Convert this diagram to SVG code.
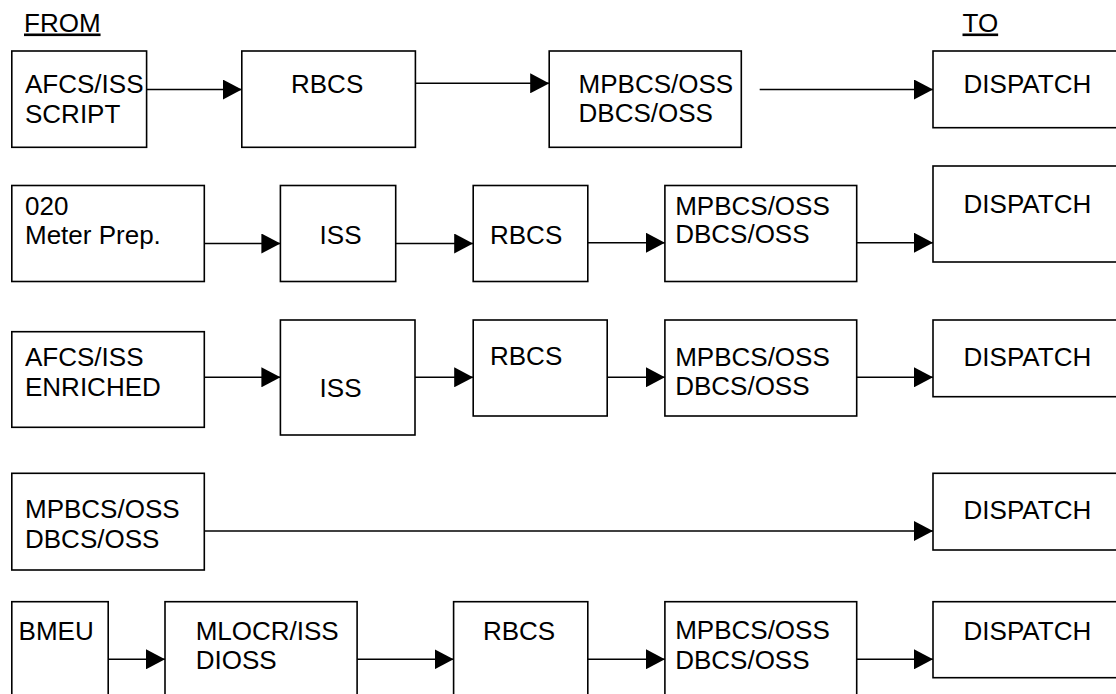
<svg xmlns="http://www.w3.org/2000/svg" width="1116" height="694" viewBox="0 0 1116 694">
  <style>
    .box { fill: #ffffff; stroke: #000000; stroke-width: 1.6; }
    .lbl { font-family: "Liberation Sans", Arial, sans-serif; font-size: 26px; fill: #000000; }
    .hdr { font-family: "Liberation Sans", Arial, sans-serif; font-size: 26px; fill: #000000; text-decoration: underline; }
    .flow { fill: none; stroke: #000000; stroke-width: 1.6; marker-end: url(#head); }
  </style>
  <defs>
    <marker id="head" markerUnits="userSpaceOnUse" markerWidth="19" markerHeight="20" viewBox="0 0 19 20" refX="19" refY="10" orient="auto">
      <path d="M0,0 L19,10 L0,20 Z" fill="#000000"/>
    </marker>
  </defs>
  <rect width="1116" height="694" fill="#ffffff"/>

  <!-- column headings -->
  <g id="headings">
    <text class="hdr" x="24" y="31.5">FROM</text>
    <text class="hdr" x="962.5" y="31.5">TO</text>
  </g>

  <!-- row 1 -->
  <g id="r1-afcs-script">
    <rect class="box" x="11.8" y="51" width="134.8" height="96.3"/>
    <text class="lbl" x="25" y="93">AFCS/ISS</text>
    <text class="lbl" x="25" y="122.5">SCRIPT</text>
  </g>
  <g id="r1-rbcs">
    <rect class="box" x="241.8" y="51" width="173.6" height="96.3"/>
    <text class="lbl" x="291" y="93">RBCS</text>
  </g>
  <g id="r1-mpbcs">
    <rect class="box" x="549.2" y="51" width="192.1" height="96.3"/>
    <text class="lbl" x="578.6" y="93">MPBCS/OSS</text>
    <text class="lbl" x="578.6" y="122">DBCS/OSS</text>
  </g>
  <g id="r1-dispatch">
    <rect class="box" x="933" y="51" width="190" height="76.7"/>
    <text class="lbl" x="963.6" y="93">DISPATCH</text>
  </g>

  <!-- row 2 -->
  <g id="r2-meter-prep">
    <rect class="box" x="11.8" y="185.5" width="192.5" height="96"/>
    <text class="lbl" x="25" y="215">020</text>
    <text class="lbl" x="25" y="244.3">Meter Prep.</text>
  </g>
  <g id="r2-iss">
    <rect class="box" x="280.4" y="185.5" width="115.3" height="96"/>
    <text class="lbl" x="319.6" y="244">ISS</text>
  </g>
  <g id="r2-rbcs">
    <rect class="box" x="473.2" y="185.5" width="114.6" height="96"/>
    <text class="lbl" x="490" y="244">RBCS</text>
  </g>
  <g id="r2-mpbcs">
    <rect class="box" x="664.9" y="185.5" width="191.8" height="96"/>
    <text class="lbl" x="675.2" y="215">MPBCS/OSS</text>
    <text class="lbl" x="675.2" y="243.3">DBCS/OSS</text>
  </g>
  <g id="r2-dispatch">
    <rect class="box" x="933" y="166" width="190" height="96"/>
    <text class="lbl" x="963.6" y="213.3">DISPATCH</text>
  </g>

  <!-- row 3 -->
  <g id="r3-afcs-enriched">
    <rect class="box" x="11.8" y="331.7" width="192.5" height="95.6"/>
    <text class="lbl" x="25" y="366">AFCS/ISS</text>
    <text class="lbl" x="25" y="395.7">ENRICHED</text>
  </g>
  <g id="r3-iss">
    <rect class="box" x="280.4" y="320" width="134.6" height="115"/>
    <text class="lbl" x="319.6" y="396.7">ISS</text>
  </g>
  <g id="r3-rbcs">
    <rect class="box" x="473.2" y="320" width="134" height="96"/>
    <text class="lbl" x="490" y="365">RBCS</text>
  </g>
  <g id="r3-mpbcs">
    <rect class="box" x="664.9" y="320" width="191.8" height="96"/>
    <text class="lbl" x="675.2" y="365.7">MPBCS/OSS</text>
    <text class="lbl" x="675.2" y="395">DBCS/OSS</text>
  </g>
  <g id="r3-dispatch">
    <rect class="box" x="933" y="320" width="190" height="76.7"/>
    <text class="lbl" x="963.6" y="365.7">DISPATCH</text>
  </g>

  <!-- row 4 -->
  <g id="r4-mpbcs">
    <rect class="box" x="11.8" y="473.3" width="192.5" height="96.7"/>
    <text class="lbl" x="25" y="518.3">MPBCS/OSS</text>
    <text class="lbl" x="25" y="548.3">DBCS/OSS</text>
  </g>
  <g id="r4-dispatch">
    <rect class="box" x="933" y="473.3" width="190" height="76.7"/>
    <text class="lbl" x="963.6" y="519.3">DISPATCH</text>
  </g>

  <!-- row 5 -->
  <g id="r5-bmeu">
    <rect class="box" x="11.8" y="601.7" width="96.4" height="110"/>
    <text class="lbl" x="18.6" y="640">BMEU</text>
  </g>
  <g id="r5-mlocr">
    <rect class="box" x="165" y="601.7" width="192.1" height="110"/>
    <text class="lbl" x="195.7" y="640">MLOCR/ISS</text>
    <text class="lbl" x="195.7" y="669.3">DIOSS</text>
  </g>
  <g id="r5-rbcs">
    <rect class="box" x="453.6" y="601.7" width="134.2" height="110"/>
    <text class="lbl" x="482.9" y="640">RBCS</text>
  </g>
  <g id="r5-mpbcs">
    <rect class="box" x="664.9" y="601.7" width="191.8" height="110"/>
    <text class="lbl" x="675.2" y="639.3">MPBCS/OSS</text>
    <text class="lbl" x="675.2" y="669.3">DBCS/OSS</text>
  </g>
  <g id="r5-dispatch">
    <rect class="box" x="933" y="601.7" width="190" height="76"/>
    <text class="lbl" x="963.6" y="640">DISPATCH</text>
  </g>

  <!-- connectors -->
  <g id="connectors">
    <line class="flow" x1="146.6" y1="89.5" x2="241.8" y2="89.5"/>
    <line class="flow" x1="415.4" y1="83.3" x2="549.2" y2="83.3"/>
    <line class="flow" x1="759.7" y1="89.5" x2="933" y2="89.5"/>

    <line class="flow" x1="204.3" y1="243.5" x2="280.4" y2="243.5"/>
    <line class="flow" x1="395.7" y1="243.5" x2="473.2" y2="243.5"/>
    <line class="flow" x1="587.8" y1="242.7" x2="664.9" y2="242.7"/>
    <line class="flow" x1="856.7" y1="242.7" x2="933" y2="242.7"/>

    <line class="flow" x1="204.3" y1="377.3" x2="280.4" y2="377.3"/>
    <line class="flow" x1="415" y1="377.3" x2="473.2" y2="377.3"/>
    <line class="flow" x1="607.2" y1="377.3" x2="664.9" y2="377.3"/>
    <line class="flow" x1="856.7" y1="377.3" x2="933" y2="377.3"/>

    <line class="flow" x1="204.3" y1="531" x2="933" y2="531"/>

    <line class="flow" x1="108.2" y1="659.3" x2="165" y2="659.3"/>
    <line class="flow" x1="357.1" y1="659.3" x2="453.6" y2="659.3"/>
    <line class="flow" x1="587.8" y1="659.3" x2="664.9" y2="659.3"/>
    <line class="flow" x1="856.7" y1="659.3" x2="933" y2="659.3"/>
  </g>
</svg>
